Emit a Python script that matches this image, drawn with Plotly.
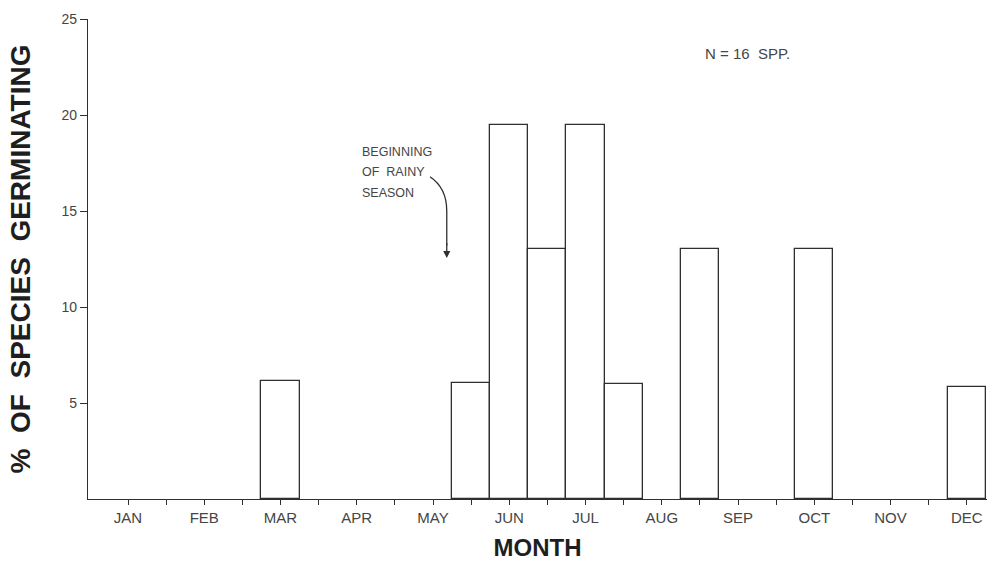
import plotly.graph_objects as go

# Germination by half-month period (month index; .5 = second half of month)
periods = [3, 5.5, 6, 6.5, 7, 7.5, 8.5, 10, 12]
pct_germinating = [6.15, 6.05, 19.5, 13.0, 19.5, 6.0, 13.0, 13.0, 5.85]

months = ["JAN", "FEB", "MAR", "APR", "MAY", "JUN",
          "JUL", "AUG", "SEP", "OCT", "NOV", "DEC"]
y_ticks = [5, 10, 15, 20, 25]

INK = "#2f2f2f"
LABEL = "#454545"
FONT = "Liberation Sans, Arial, sans-serif"

# tick at each month and at each mid-month boundary
tick_vals = []
tick_text = []
for i, m in enumerate(months):
    tick_vals.append(i + 1)
    tick_text.append(m)
    if i < len(months) - 1:
        tick_vals.append(i + 1.5)
        tick_text.append("")

fig = go.Figure()
fig.add_trace(go.Bar(
    x=periods,
    y=pct_germinating,
    width=0.5,
    marker=dict(color="white", line=dict(color=INK, width=1.3)),
    hoverinfo="x+y",
))

# curved pointer for the onset of the rainy season
fig.add_shape(
    type="path",
    path="M 4.96 16.78 Q 5.18 16.2 5.18 15.0 L 5.18 13.2",
    xref="x", yref="y",
    line=dict(color=INK, width=1.3),
)
fig.add_annotation(
    x=5.18, y=12.55, ax=5.18, ay=13.4,
    xref="x", yref="y", axref="x", ayref="y",
    text="", showarrow=True, arrowhead=2, arrowsize=1.1,
    arrowwidth=1.3, arrowcolor=INK,
)
for txt, yy in [("BEGINNING", 18.08), ("OF  RAINY", 17.01), ("SEASON", 15.95)]:
    fig.add_annotation(
        x=4.04, y=yy, xref="x", yref="y", text=txt, showarrow=False,
        xanchor="left", yanchor="middle",
        font=dict(family=FONT, size=12.5, color=LABEL),
    )

fig.add_annotation(
    x=9.13, y=23.19, xref="x", yref="y", text="N = 16 \u00a0SPP.",
    showarrow=False, xanchor="center", yanchor="middle",
    font=dict(family=FONT, size=15, color=LABEL),
)

fig.update_layout(
    width=994, height=562,
    margin=dict(l=88, r=7, t=19, b=63),
    paper_bgcolor="white", plot_bgcolor="white",
    showlegend=False,
    bargap=0,
    font=dict(family=FONT, color=LABEL),
    xaxis=dict(
        range=[0.475, 12.265], automargin=False,
        tickmode="array", tickvals=tick_vals, ticktext=tick_text,
        ticks="outside", ticklen=5, tickwidth=1.2, tickcolor=INK,
        showline=True, linecolor=INK, linewidth=1.3,
        showgrid=False, zeroline=False,
        tickfont=dict(family=FONT, size=15, color=LABEL),
        title=dict(text="<b>MONTH</b>", standoff=14,
                   font=dict(family=FONT, size=24, color="#1e1e1e")),
    ),
    yaxis=dict(
        range=[0, 25], automargin=False,
        tickmode="array", tickvals=y_ticks,
        ticks="outside", ticklen=7, tickwidth=1.2, tickcolor=INK,
        showline=True, linecolor=INK, linewidth=1.3,
        showgrid=False, zeroline=False,
        tickfont=dict(family=FONT, size=14, color=LABEL),
        title=dict(text="<b>%\u00a0 OF\u00a0 SPECIES\u00a0 GERMINATING</b>", standoff=22,
                   font=dict(family=FONT, size=28, color="#1e1e1e")),
    ),
)

fig.write_html("out.html")
